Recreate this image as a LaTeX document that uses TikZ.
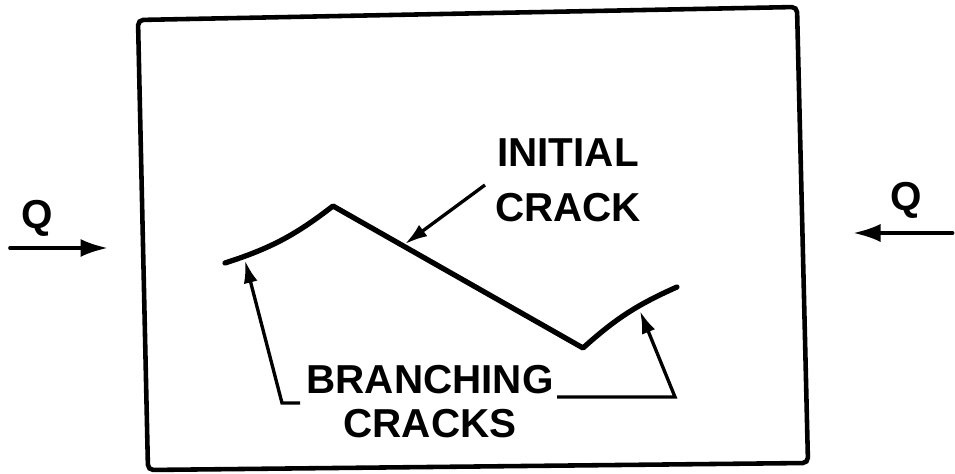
\documentclass[tikz,border=0pt]{standalone}
\usepackage{fontspec}
\setmainfont{Liberation Sans}
\usetikzlibrary{arrows.meta}

\begin{document}
\begin{tikzpicture}[
  plate/.style={line width=2.6pt, rounded corners=3pt},
  crack/.style={line width=3pt, line join=round, line cap=round},
  leader/.style={line width=1.9pt, -{Latex[length=0.45cm, width=0.28cm]}},
  load/.style={line width=2.1pt, line cap=round, -{Latex[length=0.55cm, width=0.36cm]}},
  lbl/.style={font=\fontsize{23}{31}\selectfont\bfseries, align=center, inner sep=0pt},
]
  \useasboundingbox (0,0) rectangle (19.1,9.48);
  % plate
  \draw[plate] (2.76,9.08) -- (15.94,9.34) -- (16.16,0.22) -- (2.96,0.08) -- cycle;

  % loads
  \coordinate (qL0) at (0.2,4.52);
  \coordinate (qL1) at (2.16,4.52);
  \coordinate (qR0) at (19.05,4.82);
  \coordinate (qR1) at (17.06,4.82);
  \draw[load] (qL0) -- (qL1);
  \draw[load] (qR0) -- (qR1);
  \node[lbl] (qLeft) at (0.74,5.12) {Q};
  \node[lbl] (qRight) at (18.12,5.48) {Q};

  % crack path
  \coordinate (lend) at (4.5,4.22);
  \coordinate (peak) at (6.66,5.36);
  \coordinate (valley) at (11.66,2.52);
  \coordinate (rend) at (13.54,3.74);
  \draw[crack] (lend) to[bend right=10] (peak) -- (valley) to[bend left=9] (rend);

  % labels
  \node[lbl] (initial) at (11.36,5.87) {INITIAL\\CRACK};
  \node[lbl, font=\fontsize{23}{25}\selectfont\bfseries] (branching) at (8.6,1.44)
    {BRANCHING\\CRACKS};

  % leaders
  \coordinate (iStart) at (9.7,5.78);
  \coordinate (tipI) at (8.1,4.6);
  \draw[leader] (iStart) -- (tipI);

  \coordinate (footL) at (6.0,1.42);
  \coordinate (kneeL) at (5.64,1.42);
  \coordinate (tipL) at (4.9,4.27);
  \draw[leader] (footL) -- (kneeL) -- (tipL);

  \coordinate (footR) at (11.14,1.54);
  \coordinate (kneeR) at (13.5,1.54);
  \coordinate (tipR) at (12.8,3.26);
  \draw[leader] (footR) -- (kneeR) -- (tipR);
\end{tikzpicture}
\end{document}
